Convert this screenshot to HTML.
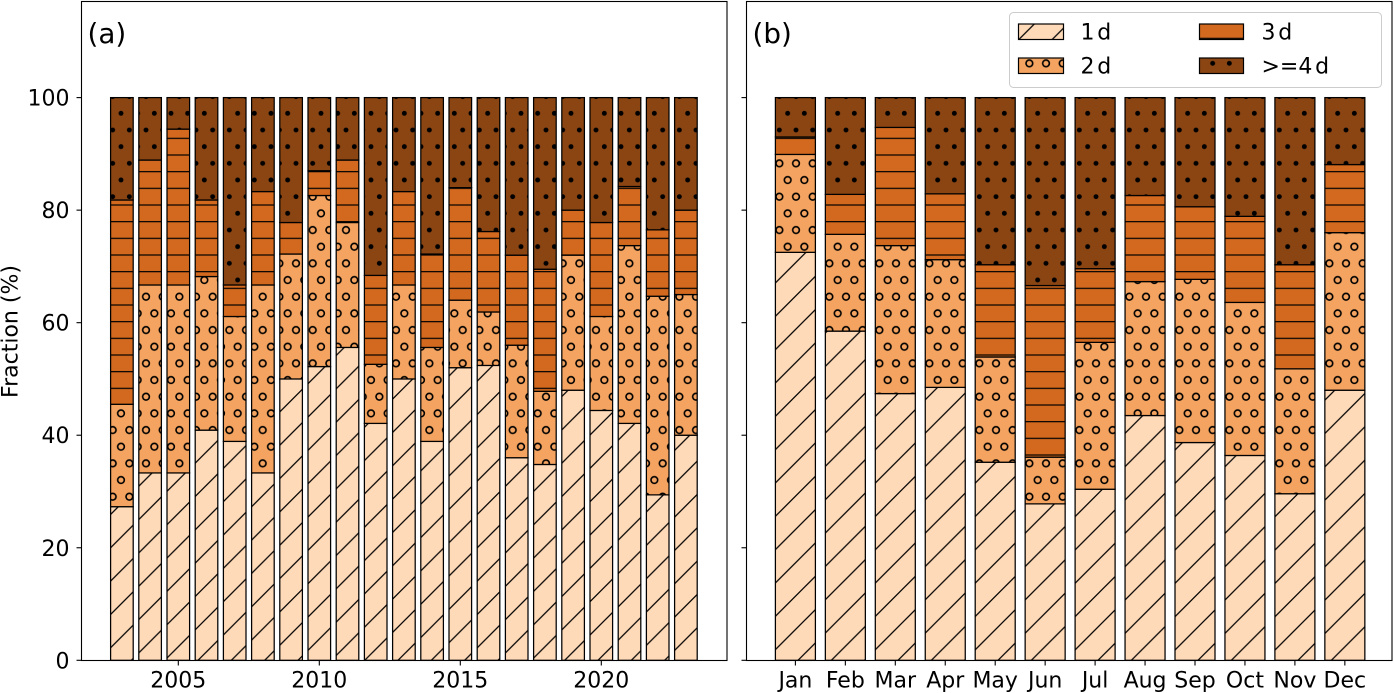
<!DOCTYPE html>
<html lang="en">
<head>
<meta charset="utf-8">
<title>Fraction stacked bars</title>
<style>
html,body{margin:0;padding:0;background:#fff;width:1394px;height:693px;overflow:hidden}
svg{display:block;position:absolute;left:0;top:0}
text{font-family:"DejaVu Sans","Liberation Sans",sans-serif;fill:#000}
</style>
</head>
<body>
<svg id="chart" xmlns="http://www.w3.org/2000/svg" width="1394" height="693" viewBox="0 0 1394 693">
  <defs>
    <pattern id="hatch-slash" patternUnits="userSpaceOnUse" width="33.3333" height="33.3333">
      <rect width="33.3333" height="33.3333" fill="#FFDAB9"/>
      <path d="M27 -2L-2 27M35.33 23L23 35.33" stroke="#000" stroke-width="1.25" fill="none"/>
    </pattern>
    <pattern id="hatch-circle" patternUnits="userSpaceOnUse" width="16.6667" height="33.3333">
      <rect width="16.6667" height="33.3333" fill="#F4A460"/>
      <circle cx="4.33" cy="13.33" r="3.35" fill="none" stroke="#000" stroke-width="1.6"/>
      <circle cx="12.67" cy="30" r="3.35" fill="none" stroke="#000" stroke-width="1.6"/>
      <circle cx="12.67" cy="-3.33" r="3.35" fill="none" stroke="#000" stroke-width="1.6"/>
      <circle cx="21" cy="13.33" r="3.35" fill="none" stroke="#000" stroke-width="1.6"/>
      <circle cx="-4" cy="30" r="3.35" fill="none" stroke="#000" stroke-width="1.6"/>
      <circle cx="-4" cy="-3.33" r="3.35" fill="none" stroke="#000" stroke-width="1.6"/>
    </pattern>
    <pattern id="hatch-line" patternUnits="userSpaceOnUse" width="16.6667" height="16.6667">
      <rect width="16.6667" height="16.6667" fill="#D2691E"/>
      <rect y="4.4" width="16.6667" height="1.2" fill="#000"/>
    </pattern>
    <pattern id="hatch-dot" patternUnits="userSpaceOnUse" width="16.6667" height="33.3333">
      <rect width="16.6667" height="33.3333" fill="#8B4513"/>
      <circle cx="4.33" cy="13.33" r="2.45" fill="#000"/>
      <circle cx="12.67" cy="30" r="2.45" fill="#000"/>
      <circle cx="12.67" cy="-3.33" r="2.45" fill="#000"/>
    </pattern>
  </defs>
  <g id="panel-a"></g>
  <g id="panel-b"></g>
  <text x="87.5" y="43" font-size="27.8">(a)</text>
  <text x="752.5" y="43" font-size="27.8">(b)</text>
  <text transform="translate(17.5 331.5) rotate(-90)" text-anchor="middle" font-size="22">Fraction (%)</text>
  <g>
    <rect x="1009.5" y="12.5" width="372" height="75" rx="4" ry="4" fill="#fff" stroke="#cccccc" stroke-width="1"/>
    <g>
      <rect x="1018.5" y="24" width="45" height="15.5" fill="url(#hatch-slash)" stroke="#000" stroke-width="1.2"/>
      <text x="1080.5" y="39.5" font-size="22" word-spacing="-4.2">1 d</text>
    </g>
    <g>
      <rect x="1018.5" y="58" width="45" height="15.5" fill="url(#hatch-circle)" stroke="#000" stroke-width="1.2"/>
      <text x="1080.5" y="73.5" font-size="22" word-spacing="-4.2">2 d</text>
    </g>
    <g>
      <rect x="1199.5" y="24" width="44" height="15.5" fill="url(#hatch-line)" stroke="#000" stroke-width="1.2"/>
      <text x="1261.5" y="39.5" font-size="22" word-spacing="-4.2">3 d</text>
    </g>
    <g>
      <rect x="1199.5" y="58" width="44" height="15.5" fill="url(#hatch-dot)" stroke="#000" stroke-width="1.2"/>
      <text x="1261.5" y="73.5" font-size="22" word-spacing="-4.2">&gt;=4 d</text>
    </g>
  </g>
</svg>
<script>
const years = [2003,2004,2005,2006,2007,2008,2009,2010,2011,2012,2013,2014,2015,2016,2017,2018,2019,2020,2021,2022,2023];
const yearD1 = [27.3,33.3,33.3,40.9,38.9,33.3,50,52.2,55.6,42.1,50,38.9,52,52.4,36,34.8,48,44.4,42.1,29.4,40];
const yearD2 = [18.2,33.4,33.4,27.3,22.2,33.4,22.2,30.4,22.2,10.5,16.7,16.7,12,9.5,20,13,24,16.7,31.6,35.3,25];
const yearD3 = [36.3,22.2,27.7,13.6,5.6,16.6,5.6,4.4,11.1,15.8,16.6,16.6,20,14.3,16,21.7,8,16.7,10.5,11.8,15];
const yearD4 = [18.2,11.1,5.6,18.2,33.3,16.7,22.2,13,11.1,31.6,16.7,27.8,16,23.8,28,30.5,20,22.2,15.8,23.5,20];
const yearTicks = [2005,2010,2015,2020];

const months = ['Jan','Feb','Mar','Apr','May','Jun','Jul','Aug','Sep','Oct','Nov','Dec'];
const monthD1 = [72.5,58.5,47.4,48.5,35.2,27.8,30.4,43.5,38.7,36.4,29.6,48];
const monthD2 = [17.4,17.2,26.3,22.7,18.7,8.3,26.1,23.8,29,27.2,22.2,28];
const monthD3 = [3.1,7.1,21,11.7,16.4,30.5,13.1,15.3,12.9,15.3,18.5,12.1];
const monthD4 = [7,17.2,5.3,17.1,29.7,33.4,30.4,17.4,19.4,21.1,29.7,11.9];

const yTicks = [0,20,40,60,80,100];
const seriesNames = ['1d','2d','3d','4d'];
const seriesFills = ['url(#hatch-slash)','url(#hatch-circle)','url(#hatch-line)','url(#hatch-dot)'];

const NS = 'http://www.w3.org/2000/svg';
const plotTop = 1.5;
const plotBottom = 660.5;
const yScale = v => 660.3 - v * 5.627;
const xYear = y => 121.9 + (y - 2003) * 28.2;
const xMonth = i => 795.4 + i * 49.95;

function make(tag, attrs, parent) {
  const el = document.createElementNS(NS, tag);
  for (const k in attrs) el.setAttribute(k, attrs[k]);
  parent.appendChild(el);
  return el;
}

function drawBars(parent, keys, xFn, width, seriesList, prefix) {
  keys.forEach((key, i) => {
    let base = 0;
    seriesList.forEach((vals, s) => {
      const v = vals[i];
      const yTop = yScale(base + v);
      const yBase = yScale(base);
      const r = make('rect', {x: xFn(key, i) - width / 2, y: yTop, width: width, height: yBase - yTop, fill: seriesFills[s], stroke: '#000', 'stroke-width': 1.25}, parent);
      
      
      base += v;
    });
  });
}

function drawFrame(parent, left, right, showYLabels) {
  const frame = make('rect', {x: left, y: plotTop, width: right - left, height: plotBottom - plotTop, fill: 'none', stroke: '#000', 'stroke-width': 1.1}, parent);
  
  
  yTicks.forEach(t => {
    const y = yScale(t);
    const tick = make('line', {x1: left - 5, x2: left, y1: y, y2: y, stroke: '#000', 'stroke-width': 1.1}, parent);
    
    
    if (showYLabels) {
      const label = make('text', {x: left - 12, y: y + 8, 'text-anchor': 'end', 'font-size': 22}, parent);
      label.textContent = t;
      
      
    }
  });
}

function drawXTick(parent, x, text) {
  const tick = make('line', {x1: x, x2: x, y1: plotBottom, y2: plotBottom + 5, stroke: '#000', 'stroke-width': 1.1}, parent);
  
  
  const label = make('text', {x: x, y: 687.5, 'text-anchor': 'middle', 'font-size': 22}, parent);
  label.textContent = text;
  
  
}

const panelA = document.getElementById('panel-a');
const panelB = document.getElementById('panel-b');

drawBars(panelA, years, y => xYear(y), 22.6, [yearD1, yearD2, yearD3, yearD4], 'year');
drawFrame(panelA, 81.5, 727, true);
yearTicks.forEach(y => drawXTick(panelA, xYear(y), y));

drawBars(panelB, months, (m, i) => xMonth(i), 40, [monthD1, monthD2, monthD3, monthD4], 'month');
drawFrame(panelB, 746.5, 1392, false);
months.forEach((m, i) => drawXTick(panelB, xMonth(i), m));
</script>
</body>
</html>
